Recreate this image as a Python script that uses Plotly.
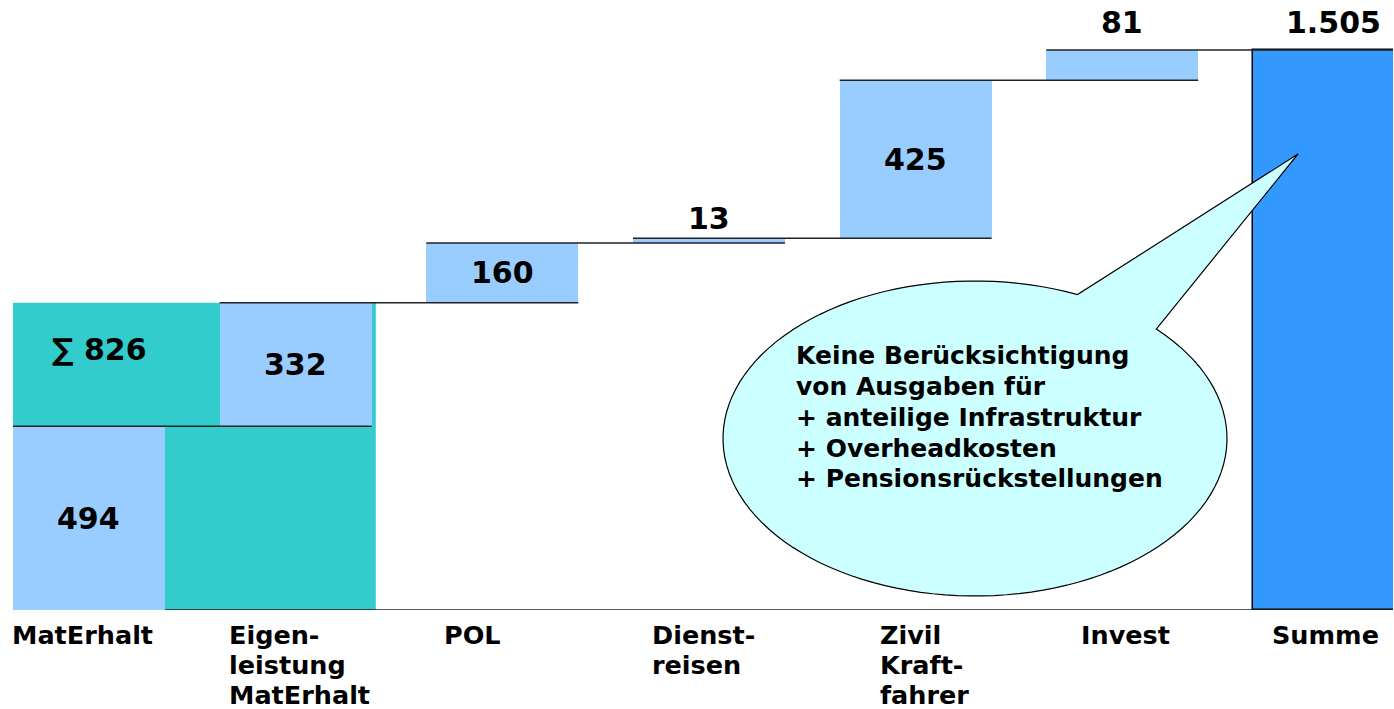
import math
import plotly.graph_objects as go

# ---------------- data ----------------
categories = ["MatErhalt", "Eigen-\nleistung\nMatErhalt", "POL", "Dienst-\nreisen",
              "Zivil\nKraft-\nfahrer", "Invest", "Summe"]
step_values = [494, 332, 160, 13, 425, 81]
total_value = 1505
value_labels = ["494", "332", "160", "13", "425", "81", "1.505"]
subtotal_value = 826
subtotal_label = "\u2211 826"
callout_lines = ["Keine Berücksichtigung", "von Ausgaben für", "+ anteilige Infrastruktur",
                 "+ Overheadkosten", "+ Pensionsrückstellungen"]

# ---------------- layout constants ----------------
W, H = 1394, 709
FONT = "Verdana, DejaVu Sans, sans-serif"
LIGHT = "#99CCFF"
TEAL = "#33CCCC"
DARK = "#3399FF"
BUBBLE = "#CCFFFF"
BAR_W = 0.7355
X_RANGE = [-0.3677, 6.3097]
Y_RANGE = [0, 1639.4]

def px(x):
    return x / W

def py(y):
    return 1 - y / H

n = len(step_values)
bases = []
cum = 0
for v in step_values:
    bases.append(cum)
    cum += v
tops = [b + v for b, v in zip(bases, step_values)]
xs = list(range(n))

fig = go.Figure()

# waterfall steps
fig.add_trace(go.Bar(x=xs, y=step_values, base=bases, width=BAR_W,
                     marker=dict(color=LIGHT, line=dict(width=0)),
                     hoverinfo="skip", showlegend=False))
# total bar
fig.add_trace(go.Bar(x=[n], y=[total_value], base=[0], width=BAR_W,
                     marker=dict(color=DARK, line=dict(color="black", width=1.5)),
                     hoverinfo="skip", showlegend=False))

shapes = []
# teal subtotal block (first two categories)
shapes.append(dict(type="rect", xref="x", yref="y", layer="below",
                   x0=0 - BAR_W / 2, x1=1 + BAR_W / 2 + 0.02, y0=0, y1=subtotal_value,
                   fillcolor=TEAL, line=dict(width=0)))
# connectors
for i in range(n):
    shapes.append(dict(type="line", xref="x", yref="y", layer="above",
                       x0=i - BAR_W / 2, x1=i + 1 + BAR_W / 2, y0=tops[i], y1=tops[i],
                       line=dict(color="#222222", width=1.5)))
# baseline
shapes.append(dict(type="line", xref="x", yref="y", layer="above",
                   x0=0 + BAR_W / 2, x1=X_RANGE[1], y0=0, y1=0,
                   line=dict(color="#222222", width=1.5)))

# speech bubble
cx, cy, rx, ry = 975, 438.5, 252, 157.5
tip = (1298, 154)
t_start, t_end = -44, 294
pts = []
steps = 120
for k in range(steps + 1):
    t = math.radians(t_start + (t_end - t_start) * k / steps)
    pts.append((cx + rx * math.cos(t), cy + ry * math.sin(t)))
pts.append(tip)
path = "M " + " L ".join(f"{px(x):.5f},{py(y):.5f}" for x, y in pts) + " Z"
shapes.append(dict(type="path", xref="paper", yref="paper", layer="above", path=path,
                   fillcolor=BUBBLE, line=dict(color="black", width=1.2)))

annotations = []
num_font = dict(family=FONT, size=30, color="black")
# value labels
inside = [0, 1, 2, 4]
above_shift = {3: 0, 5: 8}
for i in range(n):
    if i in inside:
        annotations.append(dict(x=i, y=bases[i] + step_values[i] / 2, xref="x", yref="y",
                                text=f"<b>{value_labels[i]}</b>", showarrow=False,
                                font=num_font, xanchor="center", yanchor="middle"))
    else:
        annotations.append(dict(x=i, y=tops[i], xref="x", yref="y",
                                text=f"<b>{value_labels[i]}</b>", showarrow=False,
                                font=num_font, xanchor="center", yanchor="bottom",
                                yshift=above_shift.get(i, 0)))
annotations.append(dict(x=n, y=total_value, xref="x", yref="y",
                        text=f"<b>{value_labels[n]}</b>", showarrow=False,
                        font=num_font, xanchor="center", yanchor="bottom", yshift=8, xshift=4))
annotations.append(dict(x=0, y=(step_values[0] + subtotal_value) / 2, xref="x", yref="y",
                        text=f"<b>{subtotal_label}</b>", showarrow=False,
                        font=num_font, xanchor="center", yanchor="middle", xshift=11, yshift=15))

# category labels
cat_shift = [-3, 7, 16, 17, 38, 33, 17]
cat_font = dict(family=FONT, size=25.5, color="black")
for i, c in enumerate(categories):
    for j, line in enumerate(c.split("\n")):
        annotations.append(dict(x=max(i - BAR_W / 2, X_RANGE[0] + 0.002), y=py(635 + 30 * j),
                                xref="x", yref="paper",
                                text=f"<b>{line}</b>", showarrow=False, font=cat_font,
                                xanchor="left", yanchor="middle", xshift=cat_shift[i]))

# callout text
co_font = dict(family=FONT, size=25, color="black")
for j, line in enumerate(callout_lines):
    annotations.append(dict(x=px(794), y=py(355 + 31 * j), xref="paper", yref="paper",
                            text=f"<b>{line}</b>", showarrow=False, font=co_font,
                            xanchor="left", yanchor="middle"))

fig.update_layout(
    width=W, height=H, margin=dict(l=0, r=0, t=0, b=0),
    paper_bgcolor="white", plot_bgcolor="white",
    bargap=0, showlegend=False,
    xaxis=dict(domain=[13 / W, 1393 / W], range=X_RANGE, visible=False, fixedrange=True),
    yaxis=dict(domain=[99 / H, 1], range=Y_RANGE, visible=False, fixedrange=True),
    shapes=shapes, annotations=annotations,
)

fig.write_html("out.html", config={"displayModeBar": False},
               post_script="document.body.style.margin='0px';")
